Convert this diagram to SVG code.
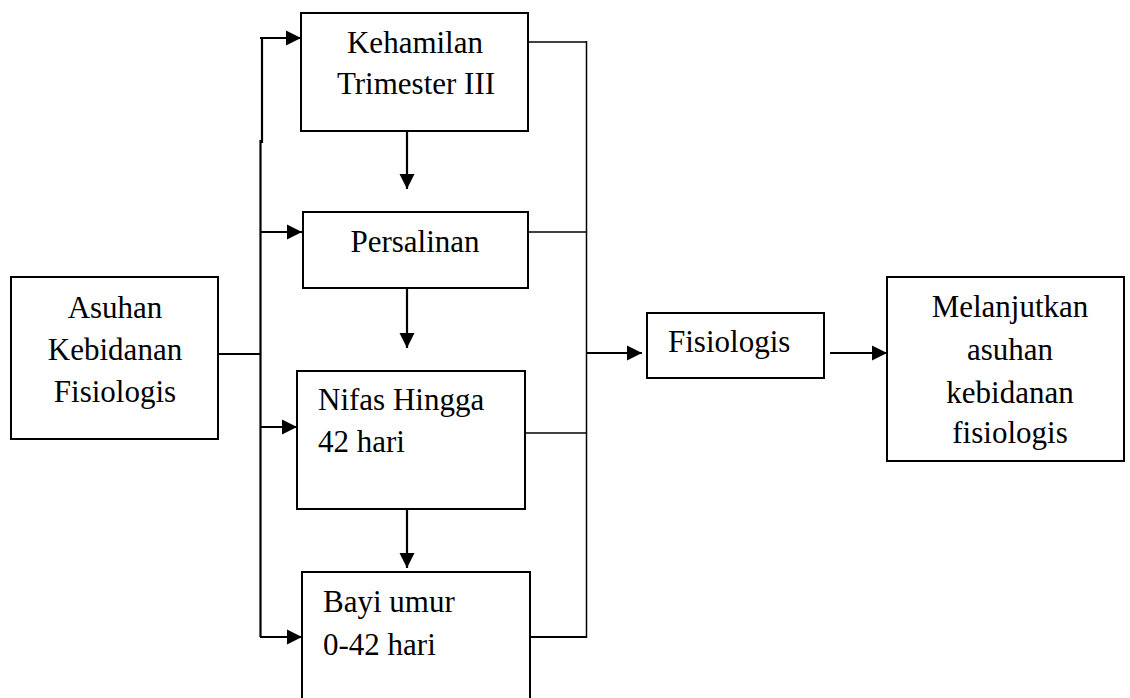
<svg xmlns="http://www.w3.org/2000/svg" width="1130" height="698" viewBox="0 0 1130 698">
<style>
.box{fill:#fff;stroke:#000;stroke-width:2}
.t{font-family:"Liberation Serif","Times New Roman",serif;font-size:31px;fill:#000}
.c{text-anchor:middle}
.ln{fill:none;stroke:#000;stroke-width:2.2}
.th{fill:none;stroke:#000;stroke-width:1.5}
</style>
<defs>
<marker id="ah" markerUnits="userSpaceOnUse" markerWidth="17" markerHeight="17" refX="15" refY="8" orient="auto">
<path d="M0,0.5 L15,8 L0,15.5 Z" fill="#000"/>
</marker>
</defs>
<rect width="1130" height="698" fill="#fff"/>
<g id="connectors">
<line class="ln" x1="218" y1="354" x2="261" y2="354"/>
<polyline class="ln" points="262,143 262,38"/>
<polyline class="ln" points="260.5,140 260.5,637"/>
<line class="ln" x1="260" y1="38" x2="301" y2="38" marker-end="url(#ah)"/>
<line class="ln" x1="260" y1="232" x2="302" y2="232" marker-end="url(#ah)"/>
<line class="ln" x1="260" y1="427" x2="297" y2="427" marker-end="url(#ah)"/>
<line class="ln" x1="260" y1="637" x2="302" y2="637" marker-end="url(#ah)"/>
<line class="ln" x1="407" y1="131" x2="407" y2="189" marker-end="url(#ah)"/>
<line class="ln" x1="407" y1="288" x2="407" y2="348" marker-end="url(#ah)"/>
<line class="ln" x1="407" y1="509" x2="407" y2="568" marker-end="url(#ah)"/>
<line class="th" x1="528" y1="42" x2="587" y2="42"/>
<line class="th" x1="528" y1="232" x2="587" y2="232"/>
<line class="th" x1="525" y1="433" x2="587" y2="433"/>
<line class="ln" x1="530" y1="637" x2="587" y2="637"/>
<line class="th" x1="586.5" y1="41" x2="586.5" y2="638"/>
<line class="ln" x1="587" y1="353" x2="642" y2="353" marker-end="url(#ah)"/>
<line class="ln" x1="830" y1="353" x2="887" y2="353" marker-end="url(#ah)"/>
</g>
<g id="asuhan">
<rect class="box" x="11" y="277" width="207" height="162"/>
<text class="t c" x="115" y="318">Asuhan</text>
<text class="t c" x="115" y="360">Kebidanan</text>
<text class="t c" x="115" y="402">Fisiologis</text>
</g>
<g id="kehamilan">
<rect class="box" x="301" y="13" width="227" height="118"/>
<text class="t c" x="415" y="53">Kehamilan</text>
<text class="t c" x="416" y="94">Trimester III</text>
</g>
<g id="persalinan">
<rect class="box" x="303" y="212" width="225" height="76"/>
<text class="t c" x="415" y="252">Persalinan</text>
</g>
<g id="nifas">
<rect class="box" x="297" y="371" width="228" height="138"/>
<text class="t" x="318" y="410">Nifas Hingga</text>
<text class="t" x="318" y="452">42 hari</text>
</g>
<g id="bayi">
<rect class="box" x="302" y="572" width="228" height="135"/>
<text class="t" x="323" y="612">Bayi umur</text>
<text class="t" x="323" y="655">0-42 hari</text>
</g>
<g id="fisiologis">
<rect class="box" x="647" y="313" width="177" height="65"/>
<text class="t" x="668" y="352">Fisiologis</text>
</g>
<g id="melanjutkan">
<rect class="box" x="887" y="277" width="237" height="184"/>
<text class="t c" x="1010" y="317">Melanjutkan</text>
<text class="t c" x="1010" y="360">asuhan</text>
<text class="t c" x="1010" y="403">kebidanan</text>
<text class="t c" x="1010" y="443">fisiologis</text>
</g>
</svg>
